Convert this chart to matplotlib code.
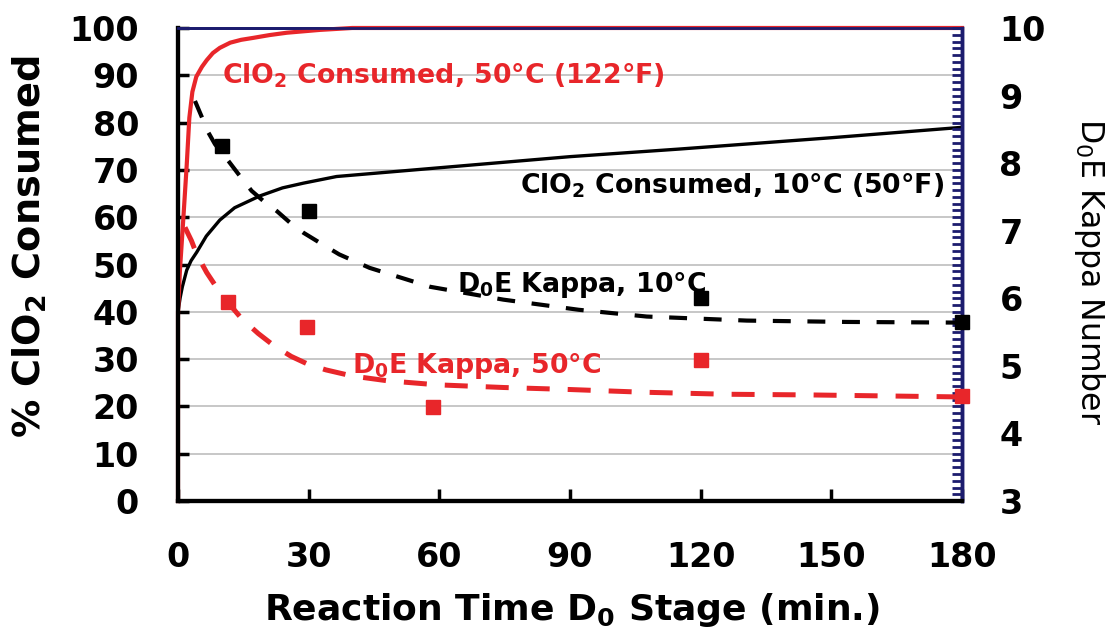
import matplotlib
matplotlib.use("Agg")
import matplotlib.pyplot as plt
from matplotlib.ticker import MultipleLocator

plt.rcParams['font.family'] = ['DejaVu Sans']
plt.rcParams['mathtext.fontset'] = 'custom'
plt.rcParams['mathtext.rm'] = 'DejaVu Sans:bold'
plt.rcParams['mathtext.it'] = 'DejaVu Sans:bold'
plt.rcParams['mathtext.bf'] = 'DejaVu Sans:bold'
plt.rcParams['mathtext.sf'] = 'DejaVu Sans'
plt.rcParams['mathtext.default'] = 'rm'

# ---------------- data ----------------
# % ClO2 consumed, 50 C
t_cons50 = [0, 0, 0.46, 1.2, 2.0, 2.6, 3.3, 4.2, 5.5, 6.6, 8, 9.6, 12, 14.5, 17.2, 21,
            25, 32.6, 40, 180]
v_cons50 = [0, 40, 49, 59.4, 71, 81, 86.5, 89.7, 91.8, 93.2, 94.7, 95.8, 96.9, 97.5,
            97.9, 98.5, 99, 99.6, 100, 100]
# % ClO2 consumed, 10 C
t_cons10 = [0, 0, 0.5, 1, 2, 3, 4.3, 6.5, 9.6, 13, 18.8, 24, 28.8, 36.4, 51.7, 67, 90,
            115, 150, 180]
v_cons10 = [0, 40, 43, 45.3, 48.8, 50.8, 52.6, 56, 59.4, 62, 64.5, 66.2, 67.2, 68.6,
            69.8, 71, 72.8, 74.4, 76.8, 79]
# D0E kappa fitted curves
t_kfit10 = [3.9, 7, 8.5, 11.6, 14.2, 16.9, 19.6, 22.7, 25.7, 28.8, 32.6, 37, 44, 57.9,
            74.7, 92, 107.6, 130.6, 153.6, 180]
k_kfit10 = [8.92, 8.45, 8.28, 8.03, 7.81, 7.59, 7.44, 7.29, 7.12, 6.97, 6.82, 6.65, 6.45,
            6.17, 5.98, 5.83, 5.73, 5.67, 5.65, 5.64]
t_kfit50 = [1.6, 3.1, 4.3, 6.6, 10, 14.6, 18.4, 22, 26, 30, 34, 40, 48, 59.4, 74.7, 90,
            106.8, 126, 145, 180]
k_kfit50 = [7.05, 6.85, 6.65, 6.38, 6.05, 5.7, 5.48, 5.3, 5.14, 5.02, 4.94, 4.85, 4.78,
            4.72, 4.68, 4.65, 4.61, 4.58, 4.57, 4.54]
# D0E kappa measured
t_kpt10 = [10, 30, 120, 180]
k_kpt10 = [8.26, 7.29, 6.0, 5.65]
t_kpt50 = [11.5, 29.6, 58.5, 120, 180]
k_kpt50 = [5.94, 5.57, 4.39, 5.09, 4.55]

x_ticks = [0, 30, 60, 90, 120, 150, 180]
y_ticks = [0, 10, 20, 30, 40, 50, 60, 70, 80, 90, 100]
y2_ticks = [3, 4, 5, 6, 7, 8, 9, 10]

RED = '#e8262a'
NAVY = '#1c1c6e'

fig = plt.figure(figsize=(11.16, 6.42), dpi=100)
ax = fig.add_axes([0.1595, 0.2196, 0.7025, 0.7368])
ax2 = ax.twinx()

ax.set_xlim(0, 180)
ax.set_ylim(0, 100)
ax2.set_ylim(3, 10)

ax.yaxis.grid(True, color='#b8b8b8', lw=1.1)
ax.set_axisbelow(True)

ax.plot(t_cons10, v_cons10, color='black', lw=2.4, zorder=3)
ax.plot(t_cons50, v_cons50, color=RED, lw=3.0, zorder=4, clip_on=False)

l1, = ax2.plot(t_kfit10, k_kfit10, color='black', lw=3.0)
l1.set_dashes((4.3, 4.0))
l2, = ax2.plot(t_kfit50, k_kfit50, color=RED, lw=3.6)
l2.set_dashes((4.6, 3.6))
ax2.plot(t_kpt10, k_kpt10, ls='none', marker='s', ms=10, color='black', clip_on=False, zorder=5)
ax2.plot(t_kpt50, k_kpt50, ls='none', marker='s', ms=10, color=RED, clip_on=False, zorder=5)

ax.set_xticks(x_ticks)
ax.set_yticks(y_ticks)
ax2.set_yticks(y2_ticks)
ax2.yaxis.set_minor_locator(MultipleLocator(0.1))

ax.tick_params(axis='y', direction='in', length=8, width=2.5, labelsize=24, pad=28)
ax.tick_params(axis='x', direction='in', length=9, width=2.5, labelsize=24, pad=29)
ax2.tick_params(axis='y', which='both', direction='in', length=7, width=2,
                color=NAVY, labelsize=24, pad=27)
for a in (ax, ax2):
    for lab in a.get_xticklabels() + a.get_yticklabels():
        lab.set_fontweight('bold')

for a in (ax, ax2):
    a.spines['left'].set_color('black')
    a.spines['left'].set_linewidth(3)
    a.spines['bottom'].set_color('black')
    a.spines['bottom'].set_linewidth(3)
    a.spines['top'].set_color(NAVY)
    a.spines['top'].set_linewidth(2)
    a.spines['right'].set_color(NAVY)
    a.spines['right'].set_linewidth(2.5)

ax.text(10.1, 88.3, r'ClO$_2$ Consumed, 50°C (122°F)', color=RED, fontsize=19.3,
        fontweight='bold', ha='left', va='baseline', zorder=6)
ax.text(176, 65.0, r'ClO$_2$ Consumed, 10°C (50°F)', color='black', fontsize=19.3,
        fontweight='bold', ha='right', va='baseline', zorder=6)
ax.text(64, 44.2, r'D$_0$E Kappa, 10°C', color='black', fontsize=19.3,
        fontweight='bold', ha='left', va='baseline', zorder=6)
ax.text(40, 27.0, r'D$_0$E Kappa, 50°C', color=RED, fontsize=19.3,
        fontweight='bold', ha='left', va='baseline', zorder=6)

fig.text(30 / 1116, 1 - 247 / 642, r'% ClO$_2$ Consumed', rotation=90, fontsize=27.5,
         fontweight='bold', ha='center', va='center')
fig.text(572 / 1116, 1 - 610 / 642, r'Reaction Time D$_0$ Stage (min.)', fontsize=26,
         fontweight='bold', ha='center', va='center')
fig.text(1090 / 1116, 1 - 272 / 642, r'D$_\mathsf{0}$E Kappa Number', rotation=270,
         fontsize=22.7, ha='center', va='center')

fig.savefig('out.png', dpi=100)
